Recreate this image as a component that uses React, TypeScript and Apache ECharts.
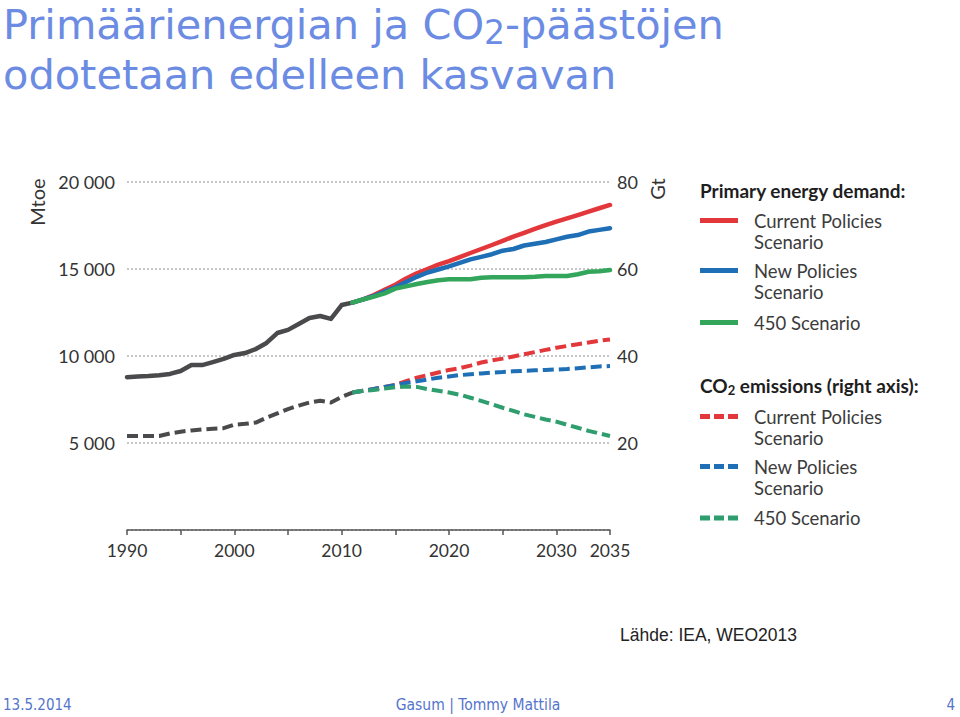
import React, { useEffect, useRef } from "react";
import * as echarts from "echarts";

// ---- data ----
const histYears = [1990, 1991, 1992, 1993, 1994, 1995, 1996, 1997, 1998, 1999, 2000, 2001, 2002, 2003, 2004, 2005, 2006, 2007, 2008, 2009, 2010, 2011];
const energyHist = [8780, 8820, 8850, 8900, 8970, 9140, 9480, 9480, 9650, 9830, 10060, 10170, 10400, 10750, 11320, 11500, 11840, 12180, 12300, 12130, 12930, 13070];
const co2Hist = [21.6, 21.6, 21.6, 21.6, 22.2, 22.6, 22.9, 23.1, 23.3, 23.4, 24.2, 24.4, 24.7, 25.8, 26.8, 27.8, 28.6, 29.3, 29.7, 29.3, 30.6, 31.6];

const projYears = [2011, 2012, 2013, 2014, 2015, 2016, 2017, 2018, 2019, 2020, 2021, 2022, 2023, 2024, 2025, 2026, 2027, 2028, 2029, 2030, 2031, 2032, 2033, 2034, 2035];
const energyCurrent = [13070, 13250, 13500, 13800, 14100, 14450, 14750, 15000, 15250, 15450, 15680, 15920, 16150, 16380, 16620, 16860, 17080, 17300, 17520, 17720, 17910, 18100, 18300, 18490, 18680];
const energyNew = [13070, 13250, 13450, 13700, 13950, 14250, 14550, 14800, 14970, 15150, 15350, 15550, 15700, 15850, 16050, 16150, 16350, 16450, 16550, 16700, 16850, 16950, 17150, 17250, 17340];
const energy450 = [13070, 13250, 13410, 13600, 13870, 14000, 14140, 14250, 14350, 14410, 14410, 14410, 14500, 14520, 14520, 14520, 14520, 14550, 14600, 14600, 14600, 14700, 14840, 14870, 14940];
const co2Current = [31.6, 32.0, 32.4, 32.9, 33.4, 34.2, 35.0, 35.6, 36.2, 36.8, 37.2, 37.8, 38.5, 39.0, 39.4, 39.9, 40.4, 40.9, 41.4, 41.9, 42.3, 42.7, 43.1, 43.5, 43.8];
const co2New = [31.6, 32.0, 32.4, 32.9, 33.3, 33.8, 34.2, 34.6, 35.0, 35.3, 35.6, 35.8, 36.0, 36.2, 36.3, 36.5, 36.6, 36.7, 36.8, 36.9, 37.0, 37.2, 37.4, 37.6, 37.7];
const co2450 = [31.6, 32.0, 32.2, 32.5, 32.8, 33.0, 32.9, 32.4, 32.0, 31.6, 31.1, 30.4, 29.7, 28.9, 28.1, 27.4, 26.6, 26.0, 25.4, 24.9, 24.2, 23.5, 22.8, 22.2, 21.6];

const xTickLabels = [1990, 2000, 2010, 2020, 2030, 2035];
const leftTicks = [5000, 10000, 15000, 20000];
const rightTicks = [20, 40, 60, 80];

// ---- styles ----
const C_GRAY = "#4a4a4c";
const C_RED = "#e2383c";
const C_BLUE = "#1e6fb5";
const C_GREEN = "#33a65c";
const C_GREEN_D = "#2f9e6e";
const AXIS_FONT = "Lato";
const TITLE_FONT = "'DejaVu Sans'";
const TITLE_SIZE = 41.5;
const SUB_SIZE = 33;
const TITLE_COLOR = "#6c8ce4";
const FOOT_COLOR = "#5574cc";
const DASH = [11, 5];

const zip = (xs: number[], ys: number[]) => xs.map((x, i) => [x, ys[i]]);

function measure(text: string, font: string): number {
  const c = document.createElement("canvas").getContext("2d");
  if (!c) return text.length * 20;
  c.font = font;
  return c.measureText(text).width;
}

export default function App() {
  const ref = useRef<HTMLDivElement>(null);
  useEffect(() => {
    if (!ref.current) return;
    const chart = echarts.init(ref.current, null, { renderer: "svg" });

    const solid = (name: string, xs: number[], ys: number[], color: string, z: number) => ({
      type: "line", name, data: zip(xs, ys), yAxisIndex: 0, symbol: "none", z,
      lineStyle: { color, width: 4.5, join: "round", cap: "round" },
    });
    const dashed = (name: string, xs: number[], ys: number[], color: string, z: number) => ({
      type: "line", name, data: zip(xs, ys), yAxisIndex: 1, symbol: "none", z,
      lineStyle: { color, width: 4, type: DASH, cap: "butt", join: "round" },
    });

    const legendItems = [
      { y: 220.5, color: C_RED, dash: null, text: "Current Policies\nScenario" },
      { y: 270.5, color: C_BLUE, dash: null, text: "New Policies\nScenario" },
      { y: 322.5, color: C_GREEN, dash: null, text: "450 Scenario" },
      { y: 416.5, color: C_RED, dash: [10, 4], text: "Current Policies\nScenario" },
      { y: 466.5, color: C_BLUE, dash: [10, 4], text: "New Policies\nScenario" },
      { y: 518, color: C_GREEN_D, dash: [10, 4], text: "450 Scenario" },
    ];
    const legendGraphics: any[] = [];
    legendItems.forEach((it) => {
      legendGraphics.push({
        type: "line",
        shape: { x1: 700, y1: it.y, x2: 738, y2: it.y },
        style: { stroke: it.color, lineWidth: 5, lineDash: it.dash || undefined, lineCap: "butt" },
      });
      legendGraphics.push({
        type: "text", x: 754, y: it.y - 10.5,
        style: { text: it.text, font: `18.5px ${AXIS_FONT}`, fill: "#3c3c3c", lineHeight: 21, verticalAlign: "top", align: "left" },
      });
    });

    // title pieces (CO with subscript 2)
    const titleFont = `${TITLE_SIZE}px ${TITLE_FONT}`;
    const subFont = `${SUB_SIZE}px ${TITLE_FONT}`;
    const t1 = "Primäärienergian ja CO";
    const t2 = "2";
    const t3 = "-päästöjen";
    const x1 = 3;
    const x2 = x1 + measure(t1, titleFont);
    const x3 = x2 + measure(t2, subFont);

    const option: any = {
      animation: false,
      backgroundColor: "#ffffff",
      grid: { left: 127, right: 350, top: 182, bottom: 187, containLabel: false },
      xAxis: {
        type: "value", min: 1990, max: 2035, interval: 5,
        axisLine: { show: true, lineStyle: { color: "#555", width: 1.5 } },
        axisTick: { show: true, length: 5, lineStyle: { color: "#555", width: 1.5 } },
        splitLine: { show: false },
        axisLabel: {
          margin: 11, color: "#333", fontFamily: AXIS_FONT, fontSize: 17.5,
          showMinLabel: true, showMaxLabel: true,
          formatter: (v: number) => (xTickLabels.indexOf(v) >= 0 ? String(v) : ""),
        },
      },
      yAxis: [
        {
          type: "value", min: 0, max: 20000, interval: 5000, position: "left",
          axisLine: { show: false }, axisTick: { show: false },
          splitLine: { show: true, lineStyle: { color: "#b5b5b5", type: [2, 2], width: 1.5 } },
          axisLabel: {
            margin: 12, color: "#333", fontFamily: AXIS_FONT, fontSize: 18,
            formatter: (v: number) => (leftTicks.indexOf(v) >= 0 ? String(v).replace(/(\d+)(\d{3})$/, "$1 $2") : ""),
          },
        },
        {
          type: "value", min: 0, max: 80, interval: 20, position: "right",
          axisLine: { show: false }, axisTick: { show: false }, splitLine: { show: false },
          axisLabel: {
            margin: 7, color: "#333", fontFamily: AXIS_FONT, fontSize: 18,
            formatter: (v: number) => (rightTicks.indexOf(v) >= 0 ? String(v) : ""),
          },
        },
      ],
      series: [
        solid("Energy history", histYears, energyHist, C_GRAY, 2),
        solid("Energy Current Policies", projYears, energyCurrent, C_RED, 3),
        solid("Energy New Policies", projYears, energyNew, C_BLUE, 4),
        solid("Energy 450", projYears, energy450, C_GREEN, 5),
        dashed("CO2 history", histYears, co2Hist, C_GRAY, 2),
        dashed("CO2 Current Policies", projYears, co2Current, C_RED, 3),
        dashed("CO2 New Policies", projYears, co2New, C_BLUE, 4),
        dashed("CO2 450", projYears, co2450, C_GREEN_D, 5),
      ],
      graphic: [
        {
          type: "text", x: x1, y: 24.5,
          style: { text: t1, font: titleFont, fill: TITLE_COLOR, verticalAlign: "middle", align: "left" },
        },
        {
          type: "text", x: x2, y: 32,
          style: { text: t2, font: subFont, fill: TITLE_COLOR, verticalAlign: "middle", align: "left" },
        },
        {
          type: "text", x: x3, y: 24.5,
          style: { text: t3, font: titleFont, fill: TITLE_COLOR, verticalAlign: "middle", align: "left" },
        },
        {
          type: "text", x: 3, y: 74,
          style: { text: "odotetaan edelleen kasvavan", font: titleFont, fill: TITLE_COLOR, verticalAlign: "middle", align: "left" },
        },
        {
          type: "text", x: 37, y: 202, rotation: Math.PI / 2,
          style: { text: "Mtoe", font: `20px ${AXIS_FONT}`, fill: "#333", align: "center", verticalAlign: "middle" },
        },
        {
          type: "text", x: 657, y: 189, rotation: Math.PI / 2,
          style: { text: "Gt", font: `20px ${AXIS_FONT}`, fill: "#333", align: "center", verticalAlign: "middle" },
        },
        {
          type: "text", x: 700, y: 190,
          style: { text: "Primary energy demand:", font: `bold 19px ${AXIS_FONT}`, fill: "#1e1e1e", verticalAlign: "middle", align: "left" },
        },
        {
          type: "text", x: 700, y: 385,
          style: {
            text: "{b|CO}{s|2}{b| emissions (right axis):}", verticalAlign: "middle", align: "left",
            rich: {
              b: { font: `bold 19px ${AXIS_FONT}`, fill: "#1e1e1e", lineHeight: 22 },
              s: { font: `bold 13px ${AXIS_FONT}`, fill: "#1e1e1e", lineHeight: 14, verticalAlign: "bottom" },
            },
          },
        },
        ...legendGraphics,
        {
          type: "text", x: 620, y: 635,
          style: { text: "Lähde: IEA, WEO2013", font: "17.5px 'Liberation Sans'", fill: "#222", verticalAlign: "middle", align: "left" },
        },
        {
          type: "text", x: 3, y: 705,
          style: { text: "13.5.2014", font: "15px 'DejaVu Sans Condensed'", fill: FOOT_COLOR, verticalAlign: "middle", align: "left" },
        },
        {
          type: "text", x: 478, y: 705,
          style: { text: "Gasum | Tommy Mattila", font: "15.5px 'DejaVu Sans Condensed'", fill: FOOT_COLOR, verticalAlign: "middle", align: "center" },
        },
        {
          type: "text", x: 955, y: 705,
          style: { text: "4", font: "15px 'DejaVu Sans Condensed'", fill: FOOT_COLOR, verticalAlign: "middle", align: "right" },
        },
      ],
    };
    chart.setOption(option);
    return () => chart.dispose();
  }, []);
  return <div ref={ref} style={{ width: 960, height: 717, position: "fixed", left: 0, top: 0 }} />;
}
